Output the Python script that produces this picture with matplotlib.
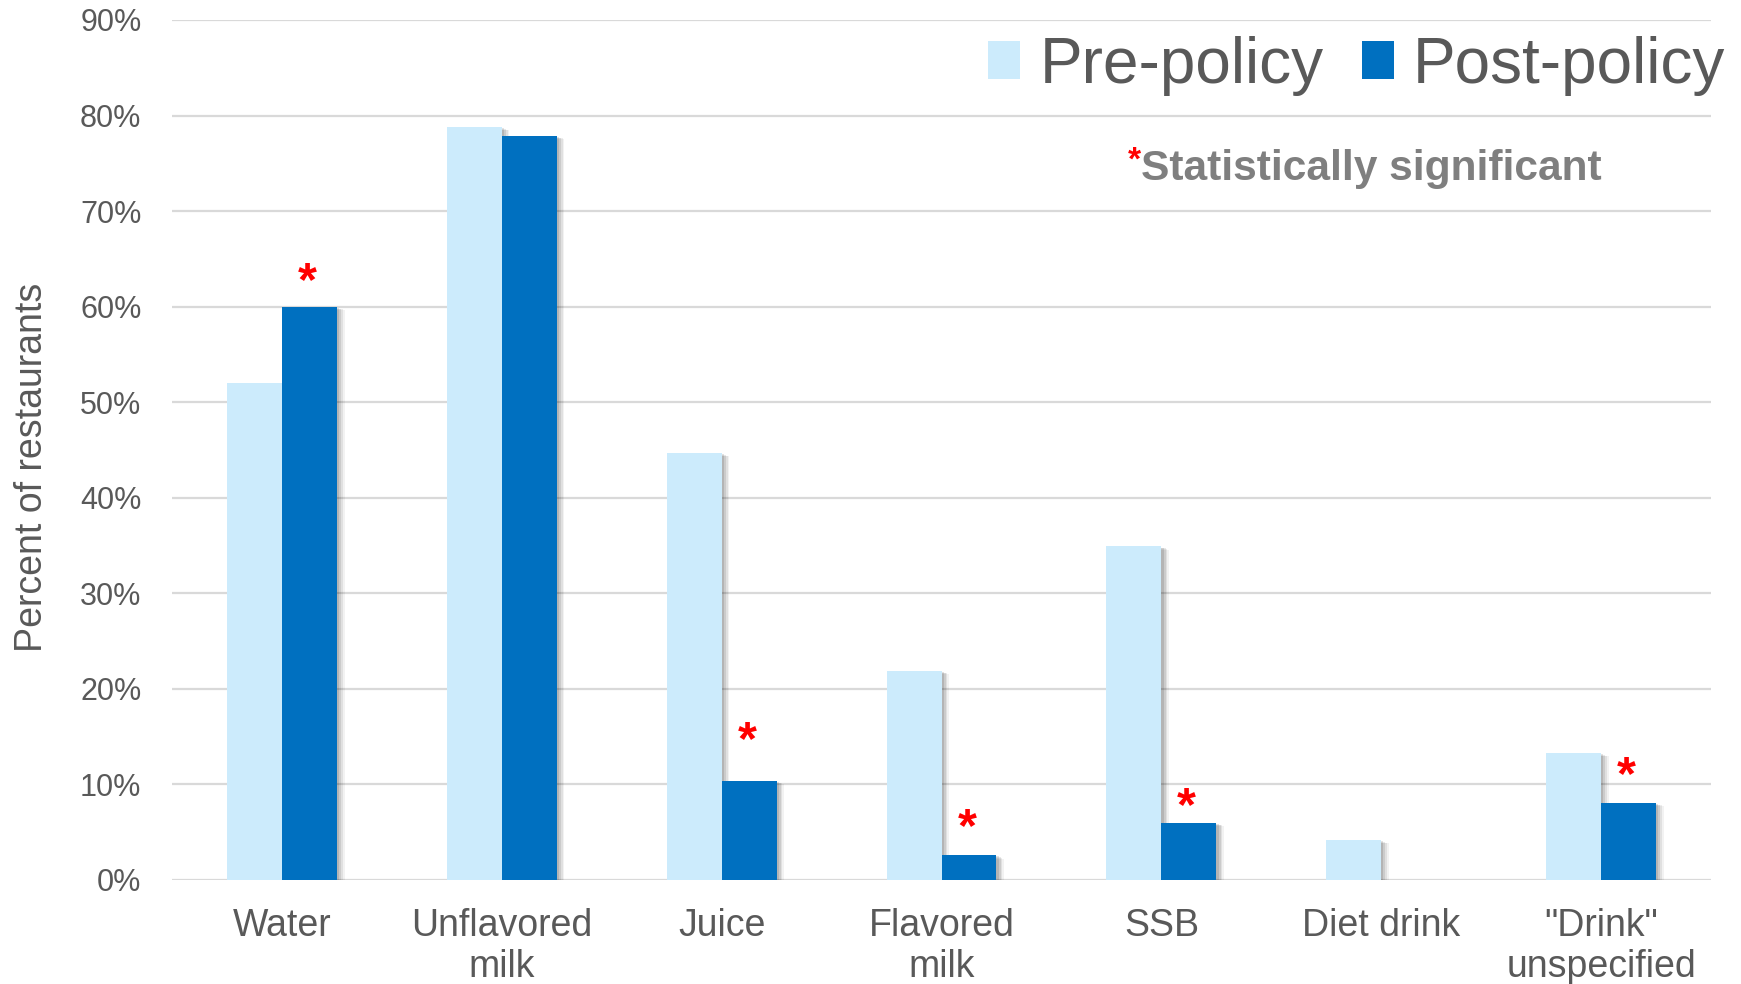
import matplotlib
matplotlib.use("Agg")
import matplotlib.pyplot as plt
import matplotlib.patheffects as pe
from matplotlib.patches import Patch
import numpy as np

plt.rcParams['font.family'] = ['Liberation Sans', 'DejaVu Sans']

categories = ["Water", "Unflavored\nmilk", "Juice", "Flavored\nmilk", "SSB",
              "Diet drink", "\"Drink\"\nunspecified"]
pre_policy = [52.0, 78.8, 44.7, 21.9, 34.9, 4.2, 13.3]
post_policy = [60.0, 77.9, 10.4, 2.6, 6.0, 0.0, 8.1]
# categories with a statistically significant change, and the height of their marker
sig_index = [0, 2, 3, 4, 6]
sig_marker_y = [62.5, 14.5, 5.4, 7.6, 10.8]
y_ticks = [0, 10, 20, 30, 40, 50, 60, 70, 80, 90]

PRE_COLOR = "#CCEBFC"
POST_COLOR = "#0070C0"
TEXT_COLOR = "#595959"
GRID_COLOR = "#D9D9D9"

fig = plt.figure(figsize=(17.41, 9.84), dpi=100)
ax = fig.add_axes([0.0988, 0.1057, 0.884, 0.874])

x = np.arange(len(categories))
w = 0.25

shadow = [
    pe.SimplePatchShadow(offset=(5.5, -2.5), shadow_rgbFace="#000000", alpha=0.05),
    pe.SimplePatchShadow(offset=(4.2, -2.0), shadow_rgbFace="#000000", alpha=0.07),
    pe.SimplePatchShadow(offset=(3.0, -1.4), shadow_rgbFace="#000000", alpha=0.09),
    pe.SimplePatchShadow(offset=(1.6, -0.8), shadow_rgbFace="#000000", alpha=0.11),
    pe.Normal(),
]

pre_bars = ax.bar(x - w / 2, pre_policy, width=w, color=PRE_COLOR, zorder=3)
post_bars = ax.bar(x + w / 2, post_policy, width=w, color=POST_COLOR, zorder=4)
for b in list(pre_bars) + list(post_bars):
    if b.get_height() > 0:
        b.set_path_effects(shadow)

for i, yv in zip(sig_index, sig_marker_y):
    ax.text(x[i] + w / 2 - 0.01, yv, "*", color="red", fontsize=35, fontweight="bold",
            ha="center", va="center", zorder=5)

ax.set_xlim(-0.5, len(categories) - 0.5)
ax.set_ylim(0, 90)
ax.set_yticks(y_ticks)
ax.set_yticklabels([f"{t}%" for t in y_ticks])
ax.set_xticks(x)
ax.set_xticklabels(categories, linespacing=1.19)
ax.tick_params(axis="y", length=0, pad=22, labelsize=22, labelcolor=TEXT_COLOR)
ax.tick_params(axis="x", length=0, pad=20, labelsize=27, labelcolor=TEXT_COLOR)
for s in ax.spines.values():
    s.set_visible(False)
ax.yaxis.grid(True, color=GRID_COLOR, linewidth=1.6)
ax.set_axisbelow(True)

ax.set_ylabel("Percent of restaurants", fontsize=27, color=TEXT_COLOR)
ax.yaxis.set_label_coords(-0.079, 0.48)

handles = [Patch(facecolor=PRE_COLOR, edgecolor="none"),
           Patch(facecolor=POST_COLOR, edgecolor="none")]
fig.legend(handles, ["Pre-policy", "Post-policy"], loc="upper right",
           bbox_to_anchor=(1.024, 1.022), ncol=2, frameon=False, fontsize=46,
           labelcolor=TEXT_COLOR, handlelength=0.5, handleheight=0.55,
           handletextpad=0.3, columnspacing=0.6)

fig.text(0.6555, 0.8287, "Statistically significant", fontsize=30.6, fontweight="bold",
         color="#7F7F7F", ha="left", va="center")
fig.text(0.6555, 0.836, "*", fontsize=24, fontweight="bold", color="red",
         ha="right", va="center")

fig.savefig("out.png", dpi=100)
